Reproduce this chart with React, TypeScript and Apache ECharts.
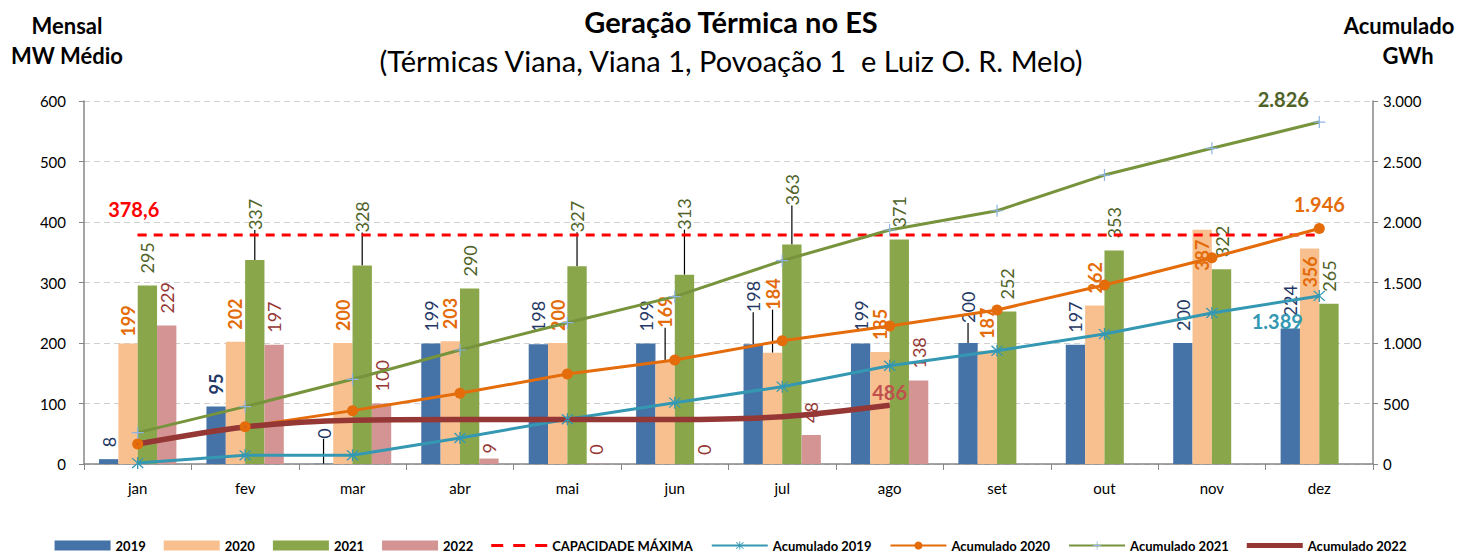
import React, { useEffect, useRef } from "react";
import * as echarts from "echarts";

const categories = ["jan", "fev", "mar", "abr", "mai", "jun", "jul", "ago", "set", "out", "nov", "dez"];
const gen2019 = [8, 95, 0.4, 199, 198, 199, 198, 199, 200, 197, 200, 224];
const gen2020 = [199, 202, 200, 203, 200, 169, 184, 185, 187, 262, 387, 356];
const gen2021 = [295, 337, 328, 290, 327, 313, 363, 371, 252, 353, 322, 265];
const gen2022 = [229, 197, 100, 9, 0.4, 0, 48, 138, null, null, null, null];
const capacityValue = 378.6;
const acc2019 = [8, 72, 72, 215, 370, 507, 639, 812, 936, 1074, 1248, 1389];
const acc2020 = [165, 308, 441, 584, 744, 860, 1019, 1140, 1273, 1479, 1705, 1946];
const acc2021 = [259, 474, 700, 942, 1168, 1383, 1680, 1934, 2093, 2388, 2609, 2826];
const acc2022 = [165, 306, 362, 368, 368, 368, 391, 486, null, null, null, null];
const leftTicks = { min: 0, max: 600, interval: 100 };
const rightTicks = { min: 0, max: 3000, interval: 500 };

// label shifts (styling only, px up)
const lift2019 = [0, 0, 13, 0, 0, 0, 20, 0, 8, 0, 0, 0];
const lift2020 = [-5, 0, 0, 0, 0, 22, 31, 0, 0, 0, -53, -51];
const lift2021 = [0, 18, 21, 0, 22, 33, 27, 0, 0, 0, 0, 0];
const lift2022 = [0, 0, 0, -7, -3, -3, 0, 0, 0, 0, 0, 0];

const FONT = "Lato, 'Noto Sans', sans-serif";

const fmtThousands = (v: number) => {
  const n = Math.round(v);
  if (n >= 1000) return `${Math.floor(n / 1000)}.${String(n % 1000).padStart(3, "0")}`;
  return String(n);
};

export default function App() {
  const ref = useRef<HTMLDivElement>(null);
  useEffect(() => {
    document.body.style.margin = "0";
    if (!ref.current) return;
    const chart = echarts.init(ref.current, null, { renderer: "svg" });

    const barSeries = (
      name: string,
      vals: (number | null)[],
      color: string,
      labelColor: string,
      bold: boolean,
      lift: number[],
      boldIdx: number[] = []
    ) => ({
      name,
      type: "bar",
      yAxisIndex: 0,
      barGap: "0%",
      barCategoryGap: "28%",
      itemStyle: { color },
      z: 2,
      data: vals.map((v, i) =>
        v === null
          ? null
          : {
              value: v,
              label: boldIdx.includes(i) ? { fontWeight: "bold" } : undefined,
              labelLine: { show: lift[i] > 5 },
            }
      ),
      label: {
        show: true,
        position: "top",
        distance: 12,
        rotate: 90,
        align: "left",
        verticalAlign: "middle",
        color: labelColor,
        fontSize: 18,
        fontFamily: FONT,
        fontWeight: bold ? "bold" : "normal",
        formatter: (p: any) => String(Math.round(p.value)),
      },
      labelLine: { show: false, lineStyle: { color: "#000", width: 1.2 } },
      labelLayout: (p: any) => ({ dx: lift[p.dataIndex] || 0 }),
    });

    const endLabel = (
      vals: (number | null)[],
      idx: number,
      color: string,
      pos: string,
      offset: number[]
    ) =>
      vals.map((v, i) =>
        i === idx
          ? {
              value: v,
              label: {
                show: true,
                position: pos,
                offset,
                color,
                fontSize: 20,
                fontWeight: "bold",
                fontFamily: FONT,
                formatter: (p: any) => fmtThousands(p.value),
              },
            }
          : v
      );

    const starPath =
      "path://M9,0h2v20h-2z M1,2.4L2.4,1L19,17.6L17.6,19z M17.6,1L19,2.4L2.4,19L1,17.6z";
    const plusPath = "path://M9,0h2v9h9v2h-9v9h-2v-9h-9v-2h9z";
    const dashIcon =
      "path://M0,0h0.1v0.1h-0.1z M0,3.5h12v3h-12z M22,3.5h12v3h-12z M44,3.5h12v3h-12z M55.9,9.9h0.1v0.1h-0.1z";
    const thickIcon = "path://M0,0h0.1v0.1h-0.1z M0,2.5h56v5h-56z M55.9,9.9h0.1v0.1h-0.1z";

    const option: any = {
      animation: false,
      textStyle: { fontFamily: FONT },
      grid: { left: 84, right: 88, top: 101, bottom: 91 },
      legend: {
        top: 534,
        left: "center",
        itemWidth: 56,
        itemHeight: 10,
        itemGap: 18,
        textStyle: { fontSize: 13, fontWeight: "bold", color: "#000", fontFamily: FONT },
        data: [
          { name: "2019", icon: "rect" },
          { name: "2020", icon: "rect" },
          { name: "2021", icon: "rect" },
          { name: "2022", icon: "rect" },
          { name: "CAPACIDADE MÁXIMA", icon: dashIcon },
          "Acumulado 2019",
          "Acumulado 2020",
          "Acumulado 2021",
          { name: "Acumulado 2022", icon: thickIcon },
        ],
      },
      graphic: [
        { type: "text", x: 731, y: 21, style: { text: "Geração Térmica no ES", textAlign: "center", textVerticalAlign: "middle", fontSize: 29, fontWeight: "bold", fontFamily: FONT, fill: "#000" } },
        { type: "text", x: 731, y: 60, style: { text: "(Térmicas Viana, Viana 1, Povoação 1  e Luiz O. R. Melo)", textAlign: "center", textVerticalAlign: "middle", fontSize: 29, fontFamily: FONT, fill: "#000" } },
        { type: "text", x: 67, y: 25, style: { text: "Mensal", textAlign: "center", textVerticalAlign: "middle", fontSize: 22, fontWeight: "bold", fontFamily: FONT, fill: "#000" } },
        { type: "text", x: 67, y: 55, style: { text: "MW Médio", textAlign: "center", textVerticalAlign: "middle", fontSize: 22, fontWeight: "bold", fontFamily: FONT, fill: "#000" } },
        { type: "text", x: 1399, y: 25, style: { text: "Acumulado", textAlign: "center", textVerticalAlign: "middle", fontSize: 22, fontWeight: "bold", fontFamily: FONT, fill: "#000" } },
        { type: "text", x: 1408, y: 55, style: { text: "GWh", textAlign: "center", textVerticalAlign: "middle", fontSize: 22, fontWeight: "bold", fontFamily: FONT, fill: "#000" } },
      ],
      xAxis: {
        type: "category",
        data: categories,
        axisLine: { lineStyle: { color: "#868686", width: 1.5 } },
        axisTick: { show: true, length: 6, lineStyle: { color: "#868686" } },
        axisLabel: { fontSize: 15, color: "#000", margin: 16, fontFamily: FONT },
      },
      yAxis: [
        {
          type: "value",
          ...leftTicks,
          axisLine: { show: true, lineStyle: { color: "#868686", width: 1.5 } },
          axisTick: { show: true, length: 5, lineStyle: { color: "#868686" } },
          axisLabel: { fontSize: 15, color: "#000", margin: 18, fontFamily: FONT },
          splitLine: { show: true, lineStyle: { color: "#D0D0D0", type: [6, 4] } },
        },
        {
          type: "value",
          ...rightTicks,
          position: "right",
          axisLine: { show: true, lineStyle: { color: "#868686", width: 1.5 } },
          axisTick: { show: true, length: 5, lineStyle: { color: "#868686" } },
          axisLabel: { fontSize: 15, color: "#000", margin: 10, fontFamily: FONT, formatter: fmtThousands },
          splitLine: { show: false },
        },
      ],
      series: [
        barSeries("2019", gen2019, "#4572A7", "#1F3864", false, lift2019, [1]),
        barSeries("2020", gen2020, "#F9C08F", "#E46C0A", true, lift2020),
        barSeries("2021", gen2021, "#8AA64B", "#4F6228", false, lift2021),
        barSeries("2022", gen2022, "#D49494", "#953735", false, lift2022),
        {
          name: "CAPACIDADE MÁXIMA",
          type: "line",
          yAxisIndex: 0,
          z: 3,
          symbol: "none",
          lineStyle: { color: "#FF0000", width: 3, type: [9, 7] },
          itemStyle: { color: "#FF0000" },
          data: categories.map((_, i) =>
            i === 0
              ? {
                  value: capacityValue,
                  symbol: "circle",
                  symbolSize: 1,
                  label: {
                    show: true,
                    position: "top",
                    offset: [-4, -10],
                    color: "#FF0000",
                    fontSize: 20,
                    fontWeight: "bold",
                    fontFamily: FONT,
                    formatter: () => String(capacityValue).replace(".", ","),
                  },
                }
              : capacityValue
          ),
        },
        {
          name: "Acumulado 2019",
          type: "line",
          yAxisIndex: 1,
          z: 4,
          symbol: starPath,
          symbolSize: 12,
          lineStyle: { color: "#3498B3", width: 3 },
          itemStyle: { color: "#3498B3" },
          data: endLabel(acc2019, 11, "#3498B3", "bottom", [-42, 4]),
        },
        {
          name: "Acumulado 2020",
          type: "line",
          yAxisIndex: 1,
          z: 4,
          symbol: "circle",
          symbolSize: 11,
          lineStyle: { color: "#E46C0A", width: 3 },
          itemStyle: { color: "#E46C0A" },
          data: endLabel(acc2020, 11, "#E46C0A", "top", [0, -4]),
        },
        {
          name: "Acumulado 2021",
          type: "line",
          yAxisIndex: 1,
          z: 4,
          symbol: plusPath,
          symbolSize: 12,
          lineStyle: { color: "#77933C", width: 3 },
          itemStyle: { color: "#8EB4E3" },
          data: endLabel(acc2021, 11, "#4F6228", "top", [-36, -2]),
        },
        {
          name: "Acumulado 2022",
          type: "line",
          yAxisIndex: 1,
          z: 4,
          smooth: 0.3,
          symbol: "circle",
          symbolSize: 1,
          lineStyle: { color: "#953735", width: 5.5 },
          itemStyle: { color: "#953735" },
          data: endLabel(acc2022, 7, "#C0504D", "top", [0, 2]),
        },
      ],
    };
    chart.setOption(option);
    return () => chart.dispose();
  }, []);
  return <div ref={ref} style={{ width: 1461, height: 555 }} />;
}
